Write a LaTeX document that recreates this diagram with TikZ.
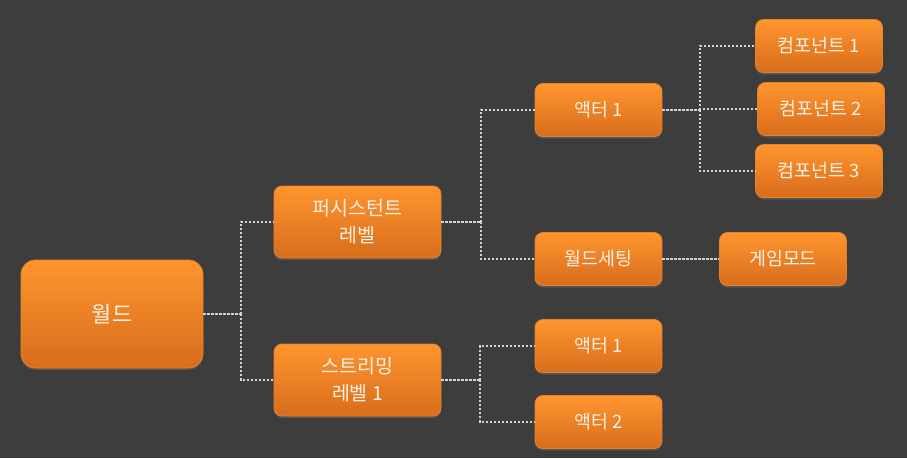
\documentclass[tikz,border=0pt]{standalone}
\usepackage{fontspec}
\setmainfont{Noto Sans CJK KR}
\usetikzlibrary{shadows}
\definecolor{bgdark}{HTML}{3D3D3D}
\definecolor{boxtop}{HTML}{FF952E}
\definecolor{boxbot}{HTML}{D86D1C}
\definecolor{boxline}{HTML}{E8822A}
\definecolor{linkgray}{HTML}{D4D4D4}
\definecolor{labelwhite}{HTML}{FBF1E8}

\begin{document}
\begin{tikzpicture}[x=0.75pt,y=-0.75pt,
    box/.style={rounded corners=6pt,draw=boxline,line width=0.6pt,
        top color=boxtop,bottom color=boxbot,text=labelwhite,align=center,
        font=\fontsize{13.8}{20}\selectfont,
        drop shadow={shadow xshift=0pt,shadow yshift=-1.5pt,opacity=0.35}},
    small/.style={box,minimum width=95.25pt,minimum height=39.75pt},
    level/.style={box,minimum width=125.25pt,minimum height=54pt,
        font=\fontsize{14.6}{20}\selectfont},
    link/.style={draw=linkgray,line width=1.6pt,dash pattern=on 1.6pt off 1.4pt}]
    \fill[bgdark] (0,0) rectangle (907,458);
    \useasboundingbox (0,0) rectangle (907,458);

    % World and its levels
    \node[box,rounded corners=11pt,minimum width=136.5pt,minimum height=81pt,
        font=\fontsize{16.5}{20}\selectfont] (world) at (112,314) {월드};
    \node[level] (plevel) at (357.5,222) {퍼시스턴트\\레벨};
    \node[level] (slevel) at (357.5,380) {스트리밍\\레벨 1};

    % Persistent level contents
    \node[small] (actA) at (598.5,110) {액터 1};
    \node[small] (wset) at (598.5,259) {월드세팅};
    \node[small] (gmode) at (783,259) {게임모드};

    % Components of the actor
    \node[small] (comp1) at (819,46) {컴포넌트 1};
    \node[small] (comp2) at (821,109) {컴포넌트 2};
    \node[small] (comp3) at (819,171) {컴포넌트 3};

    % Streaming level contents
    \node[small] (actB) at (598.5,346) {액터 1};
    \node[small] (actC) at (598.5,422) {액터 2};

    % Junctions
    \coordinate (j0) at (241,314);
    \coordinate (j1) at (481,222);
    \coordinate (j2) at (480,380);
    \coordinate (j3) at (700,110);

    \draw[link] (world.east) -- (j0);
    \draw[link] (j0) |- (plevel.west);
    \draw[link] (j0) |- (slevel.west);
    \draw[link] (plevel.east) -- (j1);
    \draw[link] (j1) |- (actA.west);
    \draw[link] (j1) |- (wset.west);
    \draw[link] (wset.east) -- (gmode.west);
    \draw[link] (actA.east) -- (j3);
    \draw[link] (j3) |- (comp1.west);
    \draw[link] (j3) |- (comp2.west);
    \draw[link] (j3) |- (comp3.west);
    \draw[link] (slevel.east) -- (j2);
    \draw[link] (j2) |- (actB.west);
    \draw[link] (j2) |- (actC.west);
\end{tikzpicture}
\end{document}
